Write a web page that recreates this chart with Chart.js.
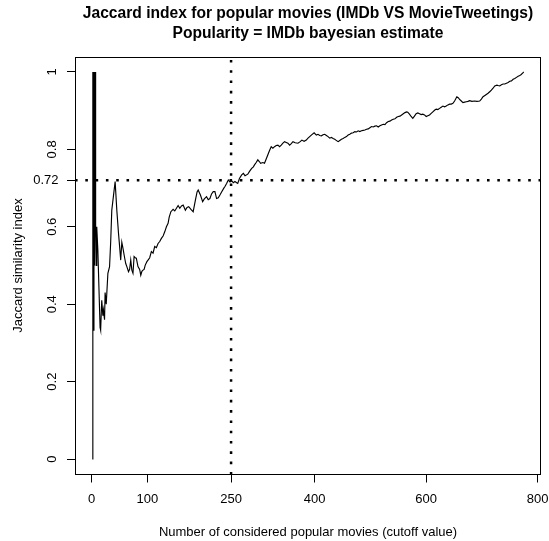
<!DOCTYPE html>
<html>
<head>
<meta charset="utf-8">
<script src="https://cdn.jsdelivr.net/npm/chart.js@4.4.1/dist/chart.umd.min.js"></script>
<style>
  html, body { margin: 0; padding: 0; background: #fff; }
  canvas { display: block; }
</style>
</head>
<body>
<canvas id="c" width="549" height="541"></canvas>
<script>
// ---- data ----
const cutoff = [
  1, 2, 3, 4, 5, 6, 7, 8, 9, 11,
  13, 15, 16, 18, 20, 21, 23, 24, 26, 29,
  32, 34, 36, 39, 42, 45, 48, 50, 52, 54,
  56, 59, 61, 63, 66, 68, 70, 72, 74, 76,
  78, 80, 83, 86, 88, 90, 92, 94, 96, 99,
  101, 104, 107, 110, 113, 116, 119, 122, 125, 128,
  131, 134, 137, 139, 142, 146, 149, 152, 155, 158,
  161, 164, 168, 171, 174, 178, 182, 186, 189, 191,
  195, 199, 202, 206, 209, 212, 215, 218, 221, 224,
  227, 230, 233, 237, 239, 242, 245, 248, 251, 254,
  257, 260, 262, 265, 269, 272, 275, 280, 284, 287,
  290, 292, 295, 298, 301, 303, 307, 310, 313, 316,
  319, 322, 325, 328, 331, 334, 337, 340, 343, 346,
  349, 352, 355, 358, 361, 365, 370, 374, 377, 381,
  385, 388, 391, 395, 399, 403, 406, 409, 412, 415,
  418, 421, 424, 427, 430, 433, 436, 438, 442, 445,
  448, 451, 454, 457, 460, 463, 466, 469, 472, 475,
  478, 481, 484, 487, 490, 493, 496, 499, 502, 505,
  508, 511, 514, 517, 520, 523, 526, 529, 532, 535,
  538, 541, 544, 547, 550, 553, 556, 559, 562, 565,
  567, 570, 573, 576, 579, 582, 585, 588, 591, 594,
  597, 600, 603, 606, 609, 612, 615, 618, 621, 624,
  627, 630, 633, 636, 639, 642, 645, 648, 651, 655,
  658, 660, 663, 666, 669, 672, 675, 678, 682, 687,
  691, 696, 699, 702, 706, 711, 714, 717, 720, 723,
  727, 729, 732, 735, 738, 741, 744, 747, 750, 753,
  756, 759, 762, 765, 767, 770, 773, 775
];
const jaccard = [
  0, 1, 0.333, 1, 0.5, 1, 0.6, 0.5, 0.6, 0.54,
  0.44, 0.34, 0.333, 0.41, 0.37, 0.385, 0.36, 0.43, 0.40, 0.48,
  0.497, 0.56, 0.643, 0.68, 0.717, 0.643, 0.584, 0.55, 0.514, 0.56,
  0.545, 0.52, 0.505, 0.497, 0.484, 0.49, 0.514, 0.488, 0.48, 0.523,
  0.52, 0.519, 0.497, 0.49, 0.475, 0.485, 0.488, 0.49, 0.501, 0.51,
  0.514, 0.52, 0.536, 0.532, 0.549, 0.546, 0.557, 0.562, 0.57, 0.576,
  0.587, 0.6, 0.609, 0.625, 0.639, 0.645, 0.641, 0.648, 0.655, 0.648,
  0.654, 0.656, 0.643, 0.65, 0.652, 0.645, 0.639, 0.669, 0.69, 0.695,
  0.682, 0.665, 0.672, 0.678, 0.67, 0.673, 0.685, 0.691, 0.691, 0.673,
  0.675, 0.682, 0.69, 0.7, 0.704, 0.712, 0.721, 0.716, 0.719, 0.714,
  0.717, 0.714, 0.712, 0.725, 0.734, 0.738, 0.732, 0.736, 0.745, 0.751,
  0.755, 0.76, 0.766, 0.773, 0.768, 0.764, 0.766, 0.764, 0.775, 0.786,
  0.797, 0.807, 0.803, 0.807, 0.81, 0.811, 0.807, 0.811, 0.816, 0.82,
  0.818, 0.816, 0.811, 0.815, 0.82, 0.817, 0.816, 0.82, 0.824, 0.821,
  0.824, 0.829, 0.833, 0.838, 0.843, 0.837, 0.839, 0.836, 0.835, 0.838,
  0.839, 0.836, 0.833, 0.829, 0.831, 0.828, 0.826, 0.824, 0.82, 0.823,
  0.826, 0.828, 0.831, 0.833, 0.837, 0.839, 0.842, 0.843, 0.846, 0.845,
  0.848, 0.846, 0.848, 0.849, 0.85, 0.852, 0.853, 0.856, 0.859, 0.858,
  0.86, 0.861, 0.858, 0.861, 0.863, 0.865, 0.864, 0.869, 0.872, 0.873,
  0.876, 0.878, 0.879, 0.883, 0.885, 0.886, 0.889, 0.892, 0.895, 0.897,
  0.896, 0.891, 0.885, 0.88, 0.886, 0.892, 0.894, 0.892, 0.89, 0.891,
  0.889, 0.885, 0.887, 0.889, 0.893, 0.897, 0.901, 0.904, 0.903, 0.906,
  0.909, 0.912, 0.91, 0.912, 0.915, 0.917, 0.917, 0.919, 0.925, 0.936,
  0.933, 0.929, 0.925, 0.921, 0.922, 0.923, 0.924, 0.926, 0.924, 0.925,
  0.924, 0.925, 0.93, 0.936, 0.94, 0.945, 0.949, 0.953, 0.958, 0.964,
  0.966, 0.965, 0.964, 0.967, 0.969, 0.969, 0.971, 0.973, 0.976, 0.977,
  0.981, 0.983, 0.986, 0.989, 0.99, 0.993, 0.997, 1
];
const xTickValues = [0, 100, 250, 400, 600, 800];
const yTickValues = [0, 0.2, 0.4, 0.6, 0.8, 1];
const refCutoff = 250;
const refJaccard = 0.72;
const xRange = [-30, 806];
const yRange = [-0.04, 1.04];

const titleLines = [
  'Jaccard index for popular movies (IMDb VS MovieTweetings)',
  'Popularity = IMDb bayesian estimate'
];
const xTitle = 'Number of considered popular movies (cutoff value)';
const yTitle = 'Jaccard similarity index';

// ---- chart ----
const FONT = '"Liberation Sans", Arial, Helvetica, sans-serif';
const seriesPoints = cutoff.map((x, i) => ({ x: x, y: jaccard[i] }));
const vRefPoints = [{ x: refCutoff, y: yRange[0] }, { x: refCutoff, y: yRange[1] }];
const hRefPoints = [{ x: xRange[0], y: refJaccard }, { x: xRange[1], y: refJaccard }];

const rDecor = {
  id: 'rDecor',
  afterDraw(chart) {
    const ctx = chart.ctx;
    const a = chart.chartArea;
    const ys = chart.scales.y;
    ctx.save();
    // plot box
    ctx.strokeStyle = '#000';
    ctx.lineWidth = 1;
    ctx.setLineDash([]);
    const l = Math.round(a.left) + 0.5, r = Math.round(a.right) - 0.5;
    const t = Math.round(a.top) + 0.5, b = Math.round(a.bottom) - 0.5;
    ctx.strokeRect(l, t, r - l, b - t);
    // y tick labels (rotated, as in R las=0)
    ctx.fillStyle = '#000';
    ctx.font = '13px ' + FONT;
    ctx.textBaseline = 'middle';
    ctx.textAlign = 'center';
    yTickValues.forEach(v => {
      const py = ys.getPixelForValue(v);
      ctx.save();
      ctx.translate(52, py);
      ctx.rotate(-Math.PI / 2);
      ctx.fillText(String(v), 0, 0);
      ctx.restore();
    });
    // horizontal reference label
    ctx.textAlign = 'right';
    ctx.fillText(String(refJaccard), 58.5, ys.getPixelForValue(refJaccard));
    // main title
    ctx.font = 'bold 15.6px ' + FONT;
    ctx.textAlign = 'center';
    const cx = (a.left + a.right) / 2;
    ctx.fillText(titleLines[0], cx, 13.5);
    ctx.fillText(titleLines[1], cx, 33.5);
    ctx.restore();
  }
};

new Chart(document.getElementById('c'), {
  type: 'scatter',
  data: {
    datasets: [
      {
        data: seriesPoints,
        showLine: true,
        borderColor: '#000',
        borderWidth: 1.15,
        pointRadius: 0,
        tension: 0,
        fill: false,
        order: 1
      },
      {
        data: vRefPoints,
        showLine: true,
        borderColor: '#000',
        borderWidth: 2.5,
        borderDash: [2.6, 7.7],
        borderCapStyle: 'butt',
        pointRadius: 0,
        fill: false,
        order: 2
      },
      {
        data: hRefPoints,
        showLine: true,
        borderColor: '#000',
        borderWidth: 2.5,
        borderDash: [2.6, 7.7],
        borderCapStyle: 'butt',
        pointRadius: 0,
        fill: false,
        order: 2
      }
    ]
  },
  options: {
    responsive: false,
    animation: false,
    devicePixelRatio: 1,
    layout: { padding: { top: 56.5, right: 8, left: 0, bottom: 0 } },
    plugins: {
      legend: { display: false },
      tooltip: { enabled: false },
      title: { display: false }
    },
    scales: {
      x: {
        type: 'linear',
        min: xRange[0],
        max: xRange[1],
        afterBuildTicks: (s) => { s.ticks = xTickValues.map(v => ({ value: v })); },
        afterFit: (s) => { s.height = 66.5; s.paddingLeft = 0; s.paddingRight = 0; },
        grid: { display: true, drawOnChartArea: false, drawTicks: true, tickLength: 8, color: '#000', lineWidth: 1 },
        border: { display: false },
        ticks: {
          color: '#000',
          font: { family: FONT, size: 13 },
          padding: 9,
          maxRotation: 0,
          minRotation: 0,
          autoSkip: false,
          callback: (v) => String(v)
        },
        title: {
          display: true,
          text: xTitle,
          color: '#000',
          font: { family: FONT, size: 13 },
          padding: { top: 0, bottom: 1.2 }
        }
      },
      y: {
        type: 'linear',
        min: yRange[0],
        max: yRange[1],
        afterBuildTicks: (s) => { s.ticks = yTickValues.concat([refJaccard]).map(v => ({ value: v })); },
        afterFit: (s) => { s.width = 75; s.paddingTop = 0; s.paddingBottom = 0; },
        grid: { display: true, drawOnChartArea: false, drawTicks: true, tickLength: 8, color: '#000', lineWidth: 1 },
        border: { display: false },
        ticks: { display: false },
        title: {
          display: true,
          text: yTitle,
          color: '#000',
          font: { family: FONT, size: 13 },
          padding: { top: 10.7, bottom: 0 }
        }
      }
    }
  },
  plugins: [rDecor]
});
</script>
</body>
</html>
